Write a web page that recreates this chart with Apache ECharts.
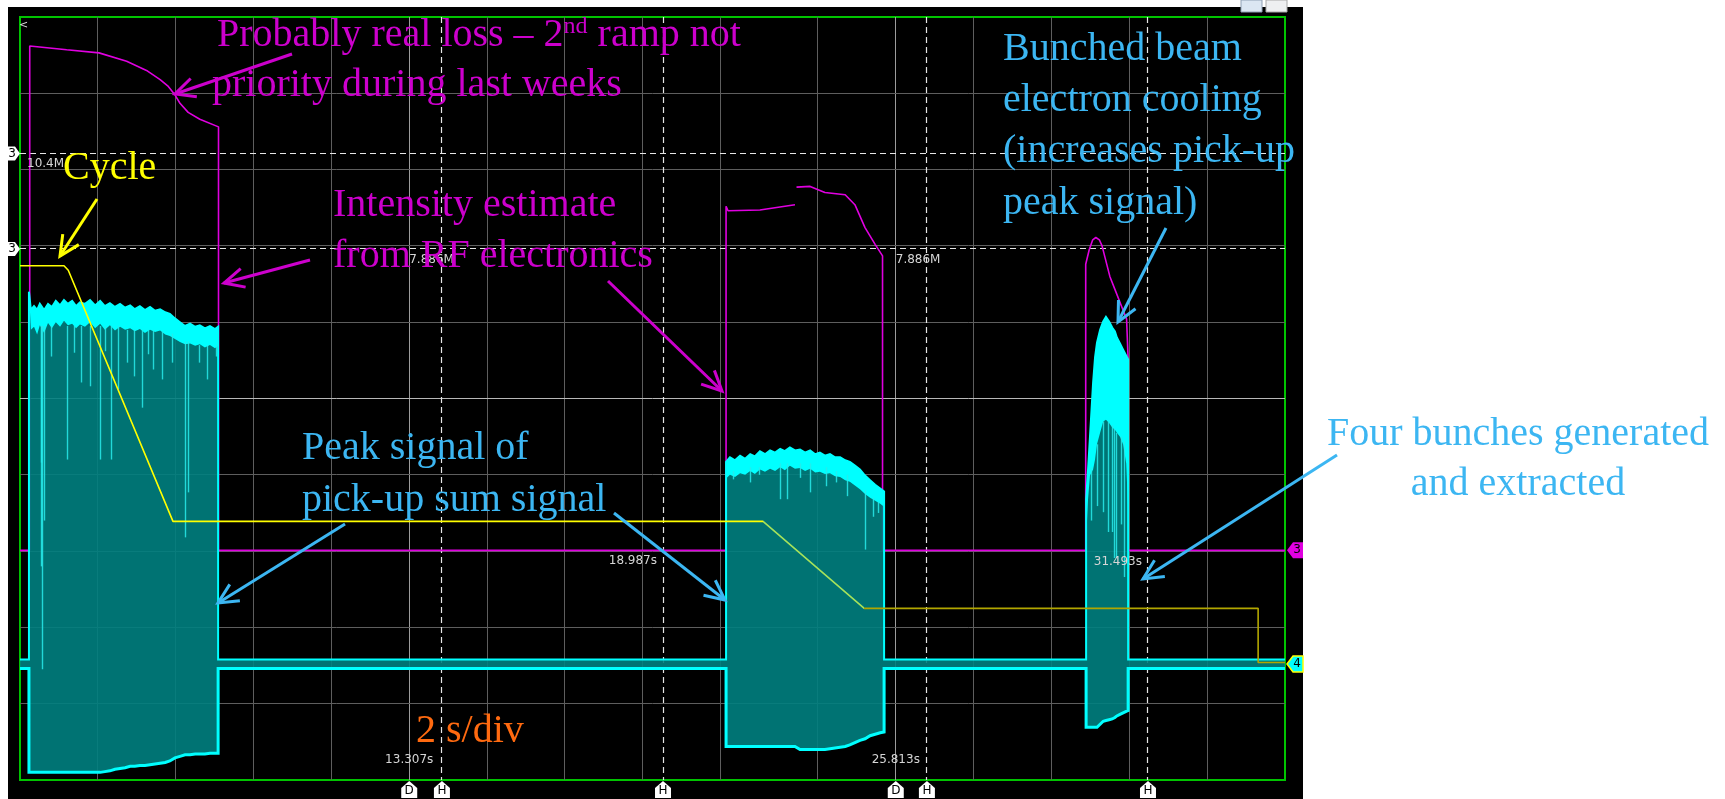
<!DOCTYPE html>
<html>
<head>
<meta charset="utf-8">
<title>Pick-up sum signal and RF intensity, 2 s/div</title>
<script src="https://cdn.jsdelivr.net/npm/echarts@6/dist/echarts.min.js"></script>
<style>
  html, body { margin: 0; padding: 0; background: #fff; }
  #wrap { position: relative; width: 1725px; height: 799px; overflow: hidden; background: #fff; }
  #screen { position: absolute; left: 8px; top: 7px; width: 1295px; height: 792px; background: #000; }
  #chart { position: absolute; left: 0; top: 0; width: 1725px; height: 799px; }
</style>
</head>
<body>
<div id="wrap"><div id="screen"></div><div id="chart"></div></div>
<script>
// Horizontal axis: seconds (2 s/div). Vertical axis: screen divisions, 0 = centre line.
const divTimes   = [2, 4, 6, 8, 10, 12, 14, 16, 18, 20.5, 22.5, 24.5, 26.5, 28.5, 30.5];
const delayTimes = [10, 22.5];                       // "D" markers, brighter divisions
const divLevels  = [-4, -3, -2, -1, 0, 1, 2, 3, 4];
const cursorTimes  = [10.84, 16.52, 23.30, 28.98];   // "H" cursors
const cursorLevels = [3.21, 1.96];                   // channel 3 level cursors
const levelReadouts = ['10.4M', '7.886M'];
const timeReadouts  = ['13.307s', '18.987s', '25.813s', '31.493s'];
const ch3Ground = -1.99;
const ch4Ground = -3.48;

// Channel 3: intensity estimate from RF electronics (null = trace gap)
const intensityTime = [0, 0.25, 0.25, 1.20, 2.03, 2.74, 3.25, 3.60, 3.81, 3.98, 4.11, 4.32, 4.62, 5.10, 5.10,
  18.14, 18.14, 18.19, 19.01, 19.91, 19.93, 19.95, 20.30, 20.68, 21.20, 21.45, 21.71, 21.97, 22.16, 22.16,
  27.38, 27.38, 27.47, 27.56, 27.64, 27.73, 27.80, 27.88, 28.00, 28.13, 28.30, 28.43, 28.47, 28.47, 32.5];
const intensityLevel = [-1.99, -1.99, 4.62, 4.57, 4.53, 4.42, 4.30, 4.18, 4.09, 3.98, 3.87, 3.75, 3.66, 3.56, -1.99,
  -1.99, 2.52, 2.46, 2.47, 2.54, null, 2.77, 2.78, 2.70, 2.67, 2.54, 2.24, 2.02, 1.87, -1.99,
  -1.99, 1.76, 1.95, 2.08, 2.11, 2.08, 2.00, 1.84, 1.60, 1.43, 1.21, 1.04, 0.51, -1.99, -1.99];

// Machine cycle
const cycleTime  = [0, 1.13, 1.24, 3.93, 19.09, 21.69, 31.81, 31.81, 32.5];
const cycleLevel = [1.74, 1.74, 1.68, -1.61, -1.61, -2.75, -2.75, -3.46, -3.46];

// Channel 4: pick-up sum signal, peak envelope (high / low edge) and the dense top band
const pickupTime = [0, 0.23,
  0.23, 0.28, 0.36, 0.44, 0.51, 0.62, 0.72, 0.82, 0.92, 1.03, 1.13, 1.23, 1.34, 1.44, 1.54, 1.67, 1.80, 1.93, 2.06, 2.18,
  2.31, 2.44, 2.57, 2.70, 2.83, 2.95, 3.08, 3.21, 3.34, 3.47, 3.60, 3.73, 3.85, 3.98, 4.11, 4.24, 4.37, 4.50, 4.62, 4.75,
  4.88, 5.01, 5.09,
  5.09, 18.14,
  18.14, 18.24, 18.37, 18.50, 18.63, 18.76, 18.88, 19.01, 19.14, 19.27, 19.40, 19.53, 19.65, 19.78, 19.91, 20.04, 20.17,
  20.30, 20.43, 20.55, 20.68, 20.81, 20.94, 21.07, 21.20, 21.32, 21.45, 21.58, 21.71, 21.84, 21.97, 22.10, 22.20,
  22.20, 27.39,
  27.39, 27.44, 27.49, 27.57, 27.62, 27.67, 27.75, 27.83, 27.90, 27.98, 28.06, 28.13, 28.18, 28.26, 28.34, 28.42, 28.47,
  28.47, 32.5];
const pickupHigh = [-3.42, -3.42,
  1.40, 1.16, 1.21, 1.16, 1.24, 1.16, 1.24, 1.20, 1.28, 1.22, 1.29, 1.24, 1.28, 1.21, 1.26, 1.24, 1.29, 1.22, 1.28, 1.21,
  1.25, 1.20, 1.24, 1.19, 1.22, 1.17, 1.21, 1.16, 1.20, 1.15, 1.17, 1.13, 1.11, 1.05, 1.00, 0.95, 0.98, 0.94, 0.96, 0.92,
  0.95, 0.91, 0.94,
  -3.42, -3.42,
  -0.83, -0.77, -0.81, -0.75, -0.79, -0.73, -0.76, -0.69, -0.73, -0.68, -0.71, -0.66, -0.69, -0.64, -0.68, -0.67, -0.71,
  -0.68, -0.73, -0.71, -0.75, -0.73, -0.77, -0.77, -0.81, -0.83, -0.88, -0.93, -1.01, -1.07, -1.13, -1.18, -1.22,
  -3.42, -3.42,
  -1.32, -0.93, -0.50, 0.21, 0.54, 0.73, 0.90, 1.01, 1.07, 1.01, 0.93, 0.88, 0.80, 0.72, 0.64, 0.56, 0.51,
  -3.42, -3.42];
const pickupBand = [-3.42, -3.42,
  1.40, 0.90, 0.94, 0.84, 0.96, 0.86, 0.99, 0.92, 1.00, 0.94, 1.02, 0.96, 0.98, 0.92, 0.97, 0.94, 1.00, 0.92, 0.98, 0.90,
  0.96, 0.89, 0.94, 0.90, 0.92, 0.88, 0.91, 0.86, 0.90, 0.87, 0.89, 0.84, 0.82, 0.78, 0.74, 0.71, 0.72, 0.69, 0.71, 0.67,
  0.70, 0.66, 0.69,
  -3.42, -3.42,
  -1.05, -1.00, -1.03, -0.98, -1.00, -0.95, -0.99, -0.93, -0.96, -0.92, -0.95, -0.90, -0.94, -0.88, -0.92, -0.91, -0.95,
  -0.92, -0.97, -0.96, -0.99, -0.98, -1.02, -1.03, -1.07, -1.09, -1.14, -1.19, -1.25, -1.30, -1.34, -1.38, -1.42,
  -3.42, -3.42,
  -1.85, -1.32, -1.01, -0.93, -0.80, -0.60, -0.45, -0.30, -0.28, -0.32, -0.38, -0.41, -0.45, -0.50, -0.60, -0.85, -1.45,
  -3.42, -3.42];
const pickupLow = [-3.54, -3.54,
  -4.90, -4.90, -4.90, -4.90, -4.90, -4.90, -4.90, -4.90, -4.90, -4.90, -4.90, -4.90, -4.90, -4.90, -4.90, -4.90, -4.90,
  -4.90, -4.90, -4.89, -4.88, -4.86, -4.85, -4.84, -4.82, -4.82, -4.81, -4.81, -4.80, -4.79, -4.78, -4.77, -4.75, -4.71,
  -4.69, -4.67, -4.67, -4.66, -4.66, -4.66, -4.65, -4.65, -4.65,
  -3.54, -3.54,
  -4.56, -4.56, -4.56, -4.56, -4.56, -4.56, -4.56, -4.56, -4.56, -4.56, -4.56, -4.56, -4.56, -4.56, -4.56, -4.60, -4.60,
  -4.60, -4.60, -4.60, -4.60, -4.59, -4.58, -4.57, -4.56, -4.54, -4.51, -4.48, -4.46, -4.42, -4.40, -4.38, -4.37,
  -3.54, -3.54,
  -4.31, -4.31, -4.31, -4.31, -4.31, -4.31, -4.27, -4.23, -4.22, -4.21, -4.20, -4.18, -4.16, -4.14, -4.12, -4.10, -4.09,
  -3.54, -3.54];

// Deep dips of the pick-up peak signal
const dipTime = [0.54, 0.56, 0.59, 0.62, 0.80, 1.21, 1.40, 1.59, 1.82, 2.06, 2.20, 2.36, 2.52, 2.75, 2.95, 3.16, 3.30,
  3.44, 3.67, 3.93, 4.24, 4.32, 4.62, 4.83, 5.06,
  18.32, 18.76, 19.01, 19.53, 19.71, 20.04, 20.30, 20.73, 20.99, 21.25, 21.71, 21.92, 22.05,
  27.54, 27.67, 27.83, 27.96, 28.06, 28.13, 28.18, 28.29, 28.37];
const dipTop = [0.95, 0.95, 0.95, 0.95, 0.95, 0.95, 0.95, 0.95, 0.95, 0.95, 0.95, 0.95, 0.95, 0.90, 0.90, 0.90, 0.90,
  0.90, 0.88, 0.85, 0.75, 0.75, 0.70, 0.70, 0.70,
  -0.95, -0.90, -0.90, -0.85, -0.85, -0.85, -0.85, -0.90, -0.95, -1.00, -1.20, -1.30, -1.35,
  -0.90, -0.60, -0.30, -0.30, -0.35, -0.40, -0.45, -0.50, -0.55];
const dipBottom = [-0.84, -2.20, -3.55, -1.60, 0.55, -0.80, 0.60, 0.21, 0.16, -0.80, 0.62, -0.80, 0.12, 0.47, 0.29, -0.12,
  0.58, 0.38, 0.25, 0.47, -1.82, -1.23, 0.47, 0.25, 0.55,
  -1.06, -1.10, -1.00, -1.32, -1.32, -1.04, -1.23, -1.15, -1.10, -1.28, -1.98, -1.55, -1.50,
  -1.60, -1.41, -1.49, -1.75, -1.75, -2.09, -2.09, -1.65, -2.34];

const T_MIN = 0, T_MAX = 32.5, V_MIN = -5, V_MAX = 5;
const crisp = v => Math.round(v - 0.5) + 0.5;

function renderVertical(params, api) {
  const t = api.value(0);
  const a = api.coord([t, V_MIN]), b = api.coord([t, V_MAX]);
  const x = crisp(a[0]);
  const bright = delayTimes.indexOf(t) >= 0;
  return { type: 'line', shape: { x1: x, y1: b[1], x2: x, y2: a[1] },
           style: { stroke: bright ? '#9c9c9c' : '#5e5e5e', lineWidth: 1 } };
}
function renderHorizontal(params, api) {
  const v = api.value(1);
  const a = api.coord([T_MIN, v]), b = api.coord([T_MAX, v]);
  const y = crisp(a[1]);
  return { type: 'line', shape: { x1: a[0], y1: y, x2: b[0], y2: y },
           style: { stroke: v === 0 ? '#b8b8b8' : '#5e5e5e', lineWidth: 1 } };
}
function renderCursorV(params, api) {
  const t = api.value(0);
  const a = api.coord([t, V_MIN]), b = api.coord([t, V_MAX]);
  const x = crisp(a[0]);
  return { type: 'line', shape: { x1: x, y1: b[1], x2: x, y2: a[1] },
           style: { stroke: '#e6e6e6', lineWidth: 1.2, lineDash: [6, 4] } };
}
function renderCursorH(params, api) {
  const v = api.value(1);
  const a = api.coord([T_MIN, v]), b = api.coord([T_MAX, v]);
  const y = crisp(a[1]);
  return { type: 'line', shape: { x1: a[0], y1: y, x2: b[0], y2: y },
           style: { stroke: '#e6e6e6', lineWidth: 1.2, lineDash: [6, 4] } };
}
function renderPickup(params, api) {
  const hi = [], lo = [], bd = [];
  for (let i = 0; i < pickupTime.length; i++) {
    hi.push(api.coord([pickupTime[i], pickupHigh[i]]));
    lo.push(api.coord([pickupTime[i], pickupLow[i]]));
    bd.push(api.coord([pickupTime[i], pickupBand[i]]));
  }
  const children = [
    { type: 'polygon', shape: { points: hi.concat(lo.slice().reverse()) }, style: { fill: 'rgba(0,128,128,0.9)' } },
    { type: 'polygon', shape: { points: hi.concat(bd.slice().reverse()) }, style: { fill: '#00ffff' } }
  ];
  for (let i = 0; i < dipTime.length; i++) {
    const p = api.coord([dipTime[i], dipTop[i]]), q = api.coord([dipTime[i], dipBottom[i]]);
    const x = crisp(p[0]);
    children.push({ type: 'line', shape: { x1: x, y1: p[1], x2: x, y2: q[1] },
                    style: { stroke: 'rgba(40,235,235,0.85)', lineWidth: 1.4 } });
  }
  children.push({ type: 'polyline', shape: { points: hi }, style: { stroke: '#00ffff', lineWidth: 2, fill: 'none' } });
  children.push({ type: 'polyline', shape: { points: lo }, style: { stroke: '#00ffff', lineWidth: 3, fill: 'none' } });
  return { type: 'group', children };
}

const chart = echarts.init(document.getElementById('chart'), null, { renderer: 'canvas' });

const option = {
  backgroundColor: 'transparent',
  animation: false,
  grid: { left: 20, top: 17, width: 1265, height: 763, show: true,
          backgroundColor: 'transparent', borderColor: '#00c400', borderWidth: 2 },
  xAxis: { type: 'value', min: T_MIN, max: T_MAX, show: false },
  yAxis: { type: 'value', min: V_MIN, max: V_MAX, show: false },
  visualMap: [{
    type: 'piecewise', show: false, dimension: 0, seriesIndex: 6,
    pieces: [
      { lte: 19.09, color: '#ffff00' },
      { gt: 19.09, lte: 21.69, color: '#a6e25a' },
      { gt: 21.69, color: '#b2a600' }
    ]
  }],
  series: [
    { name: 'divisions', type: 'custom', z: 1, silent: true, renderItem: renderVertical,
      data: divTimes.map(t => [t, 0]) },
    { name: 'levels', type: 'custom', z: 1, silent: true, renderItem: renderHorizontal,
      data: divLevels.map(v => [0, v]) },
    { name: 'H cursors', type: 'custom', z: 1, silent: true, renderItem: renderCursorV,
      data: cursorTimes.map(t => [t, 0]) },
    { name: 'level cursors', type: 'custom', z: 1, silent: true, renderItem: renderCursorH,
      data: cursorLevels.map(v => [0, v]) },
    { name: 'Intensity estimate', type: 'line', z: 2, silent: true, showSymbol: false, symbol: 'none',
      lineStyle: { color: '#e000e0', width: 1.6 },
      data: intensityTime.map((t, i) => [t, intensityLevel[i] === null ? '-' : intensityLevel[i]]) },
    { name: 'Pick-up sum signal', type: 'custom', z: 3, silent: true, renderItem: renderPickup, data: [[0, 0]] },
    { name: 'Cycle', type: 'line', z: 4, silent: true, showSymbol: false, symbol: 'none',
      lineStyle: { width: 1.6 },
      data: cycleTime.map((t, i) => [t, cycleLevel[i]]) }
  ]
};
chart.setOption(option);

// ---------- annotations ----------
const px = (t, v) => chart.convertToPixel({ gridIndex: 0 }, [t, v]);
const SERIF = '"Liberation Serif", "Times New Roman", serif';
const MAGENTA = '#cc00cc', BLUE = '#3cb6f2', YELLOW = '#ffff00', ORANGE = '#ff6a10';
const g = [];

function label(x, y, text, fill, extra) {
  g.push(Object.assign({ type: 'text', x, y, z: 100, silent: true,
    style: Object.assign({ text, fill, fontSize: 40, fontFamily: SERIF, verticalAlign: 'middle', align: 'left' }, extra || {}) }));
}
function arrow(x1, y1, x2, y2, color) {
  const ang = Math.atan2(y1 - y2, x1 - x2), L = 22, A = 0.45;
  const h1 = [x2 + L * Math.cos(ang + A), y2 + L * Math.sin(ang + A)];
  const h2 = [x2 + L * Math.cos(ang - A), y2 + L * Math.sin(ang - A)];
  g.push({ type: 'line', z: 99, silent: true, shape: { x1, y1, x2, y2 }, style: { stroke: color, lineWidth: 3 } });
  g.push({ type: 'polyline', z: 99, silent: true, shape: { points: [h1, [x2, y2], h2] },
           style: { stroke: color, lineWidth: 3, fill: 'none' } });
}
function smallText(x, y, text, align) {
  g.push({ type: 'text', x, y, z: 98, silent: true,
    style: { text, fill: '#d6d6d6', fontSize: 12, fontFamily: '"DejaVu Sans", sans-serif',
             align: align || 'left', verticalAlign: 'middle' } });
}

// annotation texts
label(217, 35, 'Probably real loss – 2{sup|nd} ramp not', MAGENTA,
      { rich: { sup: { fontSize: 24, fontFamily: SERIF, fill: MAGENTA, verticalAlign: 'top' } } });
label(212, 85, 'priority during last weeks', MAGENTA);
label(333, 205, 'Intensity estimate', MAGENTA);
label(333, 256, 'from RF electronics', MAGENTA);
label(63, 168, 'Cycle', YELLOW);
label(1003, 49, 'Bunched beam', BLUE);
label(1003, 100, 'electron cooling', BLUE);
label(1003, 151, '(increases pick-up', BLUE);
label(1003, 203, 'peak signal)', BLUE);
label(302, 448, 'Peak signal of', BLUE);
label(302, 500, 'pick-up sum signal', BLUE);
label(1518, 434, 'Four bunches generated', BLUE, { align: 'center' });
label(1518, 484, 'and extracted', BLUE, { align: 'center' });
label(416, 731, '2 s/div', ORANGE);

// annotation arrows
arrow(97, 199, 60, 256, YELLOW);
arrow(292, 54, 175, 94, MAGENTA);
arrow(310, 260, 224, 283, MAGENTA);
arrow(608, 281, 722, 391, MAGENTA);
arrow(345, 524, 218, 603, BLUE);
arrow(614, 513, 725, 600, BLUE);
arrow(1166, 228, 1118, 322, BLUE);
arrow(1337, 455, 1143, 579, BLUE);

// cursor readouts
const lv0 = px(0, cursorLevels[0]), lv1 = px(0, cursorLevels[1]);
const d0 = px(delayTimes[0], 0), d1 = px(delayTimes[1], 0);
const h1 = px(cursorTimes[1], 0), h3 = px(cursorTimes[3], 0);
smallText(27, lv0[1] + 10, levelReadouts[0]);
smallText(d0[0], lv1[1] + 11, levelReadouts[1]);
smallText(d1[0], lv1[1] + 11, levelReadouts[1]);
smallText(d0[0], 760, timeReadouts[0], 'center');
smallText(h1[0] - 6, 561, timeReadouts[1], 'right');
smallText(d1[0], 760, timeReadouts[2], 'center');
smallText(h3[0] - 6, 562, timeReadouts[3], 'right');

// channel tags on the left (level cursors) and right (ground references)
function tag(points, fill, stroke, text, tx, ty) {
  g.push({ type: 'polygon', z: 97, silent: true, shape: { points },
           style: { fill, stroke: stroke || null, lineWidth: stroke ? 1.5 : 0 } });
  g.push({ type: 'text', x: tx, y: ty, z: 98, silent: true,
           style: { text, fill: '#000', fontSize: 12, fontFamily: '"DejaVu Sans", sans-serif',
                    align: 'center', verticalAlign: 'middle' } });
}
cursorLevels.forEach(v => {
  const y = px(0, v)[1];
  tag([[8, y - 7], [15, y - 7], [20, y], [15, y + 7], [8, y + 7]], '#ffffff', null, '3', 12, y);
});
const yc3 = px(0, ch3Ground)[1], yc4 = px(0, ch4Ground)[1];
tag([[1287, yc3], [1293, yc3 - 8], [1303, yc3 - 8], [1303, yc3 + 8], [1293, yc3 + 8]], '#e000e0', null, '3', 1297, yc3);
tag([[1287, yc4], [1293, yc4 - 8], [1303, yc4 - 8], [1303, yc4 + 8], [1293, yc4 + 8]], '#00ffff', '#ffff00', '4', 1297, yc4);

// time markers below the graticule
function bottomTag(x, letter) {
  tag([[x - 8, 798], [x - 8, 788], [x, 781], [x + 8, 788], [x + 8, 798]], '#ffffff', null, letter, x, 791);
}
delayTimes.forEach(t => bottomTag(px(t, 0)[0], 'D'));
cursorTimes.forEach(t => bottomTag(px(t, 0)[0], 'H'));

// small screen furniture
g.push({ type: 'text', x: 19, y: 25, z: 98, silent: true,
         style: { text: '<', fill: '#dddddd', fontSize: 11, fontFamily: '"DejaVu Sans", sans-serif', verticalAlign: 'middle' } });
g.push({ type: 'rect', z: 98, silent: true, shape: { x: 1241, y: 0, width: 21, height: 12 },
         style: { fill: '#dbe6f2', stroke: '#8f9fb3', lineWidth: 1 } });
g.push({ type: 'rect', z: 98, silent: true, shape: { x: 1266, y: 0, width: 21, height: 12 },
         style: { fill: '#eeeff1', stroke: '#a8a8a8', lineWidth: 1 } });

chart.setOption({ graphic: g });
</script>
</body>
</html>
